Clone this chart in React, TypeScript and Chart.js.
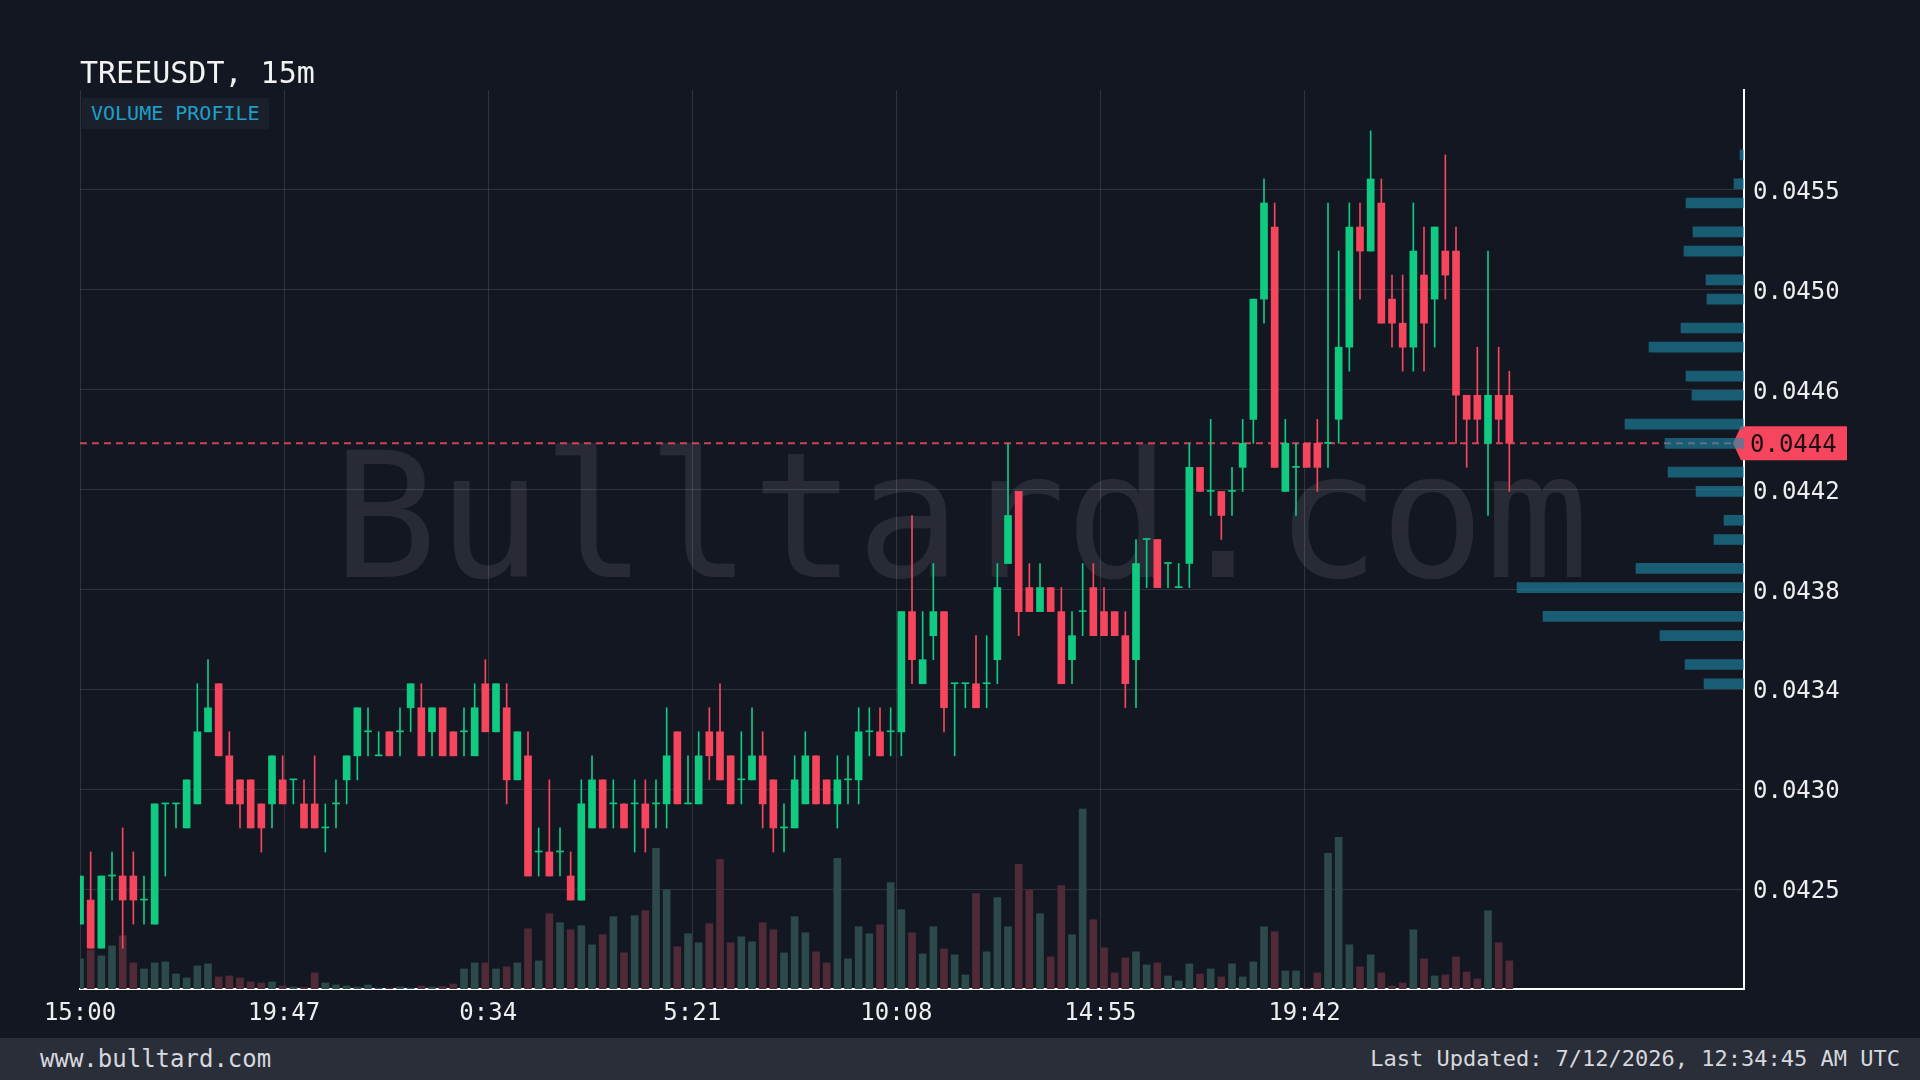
import React, { useEffect, useRef } from 'react';
import { Chart, registerables } from 'chart.js';

Chart.register(...registerables);

const TITLE = 'TREEUSDT, 15m';
const BADGE = 'VOLUME PROFILE';
const WATERMARK = 'Bulltard.com';
const FOOTER_LEFT = 'www.bulltard.com';
const FOOTER_RIGHT = 'Last Updated: 7/12/2026, 12:34:45 AM UTC';

const INTERVAL_MIN = 15;

const OPENS = [
  0.0424, 0.0425, 0.0423, 0.0426, 0.0426, 0.0426, 0.0425, 0.0424, 0.0429, 0.0429,
  0.0428, 0.0429, 0.0432, 0.0434, 0.0431, 0.0430, 0.0430, 0.0429, 0.0429, 0.0430,
  0.0430, 0.0429, 0.0429, 0.0428, 0.0429, 0.0430, 0.0431, 0.0432, 0.0431, 0.0432,
  0.0432, 0.0433, 0.0433, 0.0432, 0.0433, 0.0432, 0.0432, 0.0431, 0.0434, 0.0432,
  0.0433, 0.0430, 0.0431, 0.0427, 0.0427, 0.0427, 0.0426, 0.0425, 0.0428, 0.0430,
  0.0429, 0.0429, 0.0429, 0.0429, 0.0429, 0.0429, 0.0432, 0.0429, 0.0429, 0.0432,
  0.0432, 0.0431, 0.0430, 0.0430, 0.0431, 0.0430, 0.0428, 0.0428, 0.0429, 0.0431,
  0.0430, 0.0429, 0.0430, 0.0430, 0.0432, 0.0432, 0.0432, 0.0432, 0.0437, 0.0434,
  0.0436, 0.0437, 0.0434, 0.0434, 0.0434, 0.0434, 0.0435, 0.0439, 0.0442, 0.0438,
  0.0437, 0.0438, 0.0437, 0.0435, 0.0437, 0.0438, 0.0437, 0.0437, 0.0436, 0.0435,
  0.0440, 0.0440, 0.0439, 0.0438, 0.0439, 0.0443, 0.0442, 0.0442, 0.0442, 0.0443,
  0.0445, 0.0450, 0.0453, 0.0442, 0.0443, 0.0444, 0.0444, 0.0444, 0.0445, 0.0448,
  0.0453, 0.0452, 0.0454, 0.0450, 0.0449, 0.0448, 0.0451, 0.0450, 0.0452, 0.0452,
  0.0446, 0.0446, 0.0444, 0.0446, 0.0446,
];
const HIGHS = [
  0.0426, 0.0427, 0.0426, 0.0427, 0.0428, 0.0427, 0.0426, 0.0429, 0.0429, 0.0429,
  0.0430, 0.0434, 0.0435, 0.0434, 0.0432, 0.0430, 0.0430, 0.0429, 0.0431, 0.0431,
  0.0430, 0.0430, 0.0431, 0.0429, 0.0430, 0.0431, 0.0433, 0.0433, 0.0432, 0.0432,
  0.0433, 0.0434, 0.0434, 0.0433, 0.0433, 0.0432, 0.0433, 0.0434, 0.0435, 0.0434,
  0.0434, 0.0432, 0.0432, 0.0428, 0.0430, 0.0428, 0.0427, 0.0430, 0.0431, 0.0430,
  0.0430, 0.0429, 0.0430, 0.0430, 0.0430, 0.0433, 0.0432, 0.0431, 0.0432, 0.0433,
  0.0434, 0.0431, 0.0432, 0.0433, 0.0432, 0.0430, 0.0429, 0.0431, 0.0432, 0.0431,
  0.0430, 0.0431, 0.0431, 0.0433, 0.0433, 0.0433, 0.0433, 0.0437, 0.0441, 0.0437,
  0.0439, 0.0437, 0.0434, 0.0434, 0.0436, 0.0436, 0.0439, 0.0444, 0.0442, 0.0439,
  0.0439, 0.0438, 0.0438, 0.0437, 0.0439, 0.0439, 0.0438, 0.0437, 0.0437, 0.0440,
  0.0440, 0.0440, 0.0439, 0.0439, 0.0444, 0.0443, 0.0445, 0.0442, 0.0443, 0.0445,
  0.0450, 0.0455, 0.0454, 0.0445, 0.0444, 0.0444, 0.0445, 0.0454, 0.0452, 0.0454,
  0.0454, 0.0457, 0.0455, 0.0451, 0.0451, 0.0454, 0.0453, 0.0453, 0.0456, 0.0453,
  0.0446, 0.0448, 0.0452, 0.0448, 0.0447,
];
const LOWS = [
  0.0424, 0.0423, 0.0423, 0.0425, 0.0423, 0.0424, 0.0424, 0.0424, 0.0426, 0.0428,
  0.0428, 0.0429, 0.0432, 0.0431, 0.0429, 0.0428, 0.0428, 0.0427, 0.0428, 0.0429,
  0.0429, 0.0428, 0.0428, 0.0427, 0.0428, 0.0429, 0.0430, 0.0431, 0.0431, 0.0431,
  0.0431, 0.0432, 0.0431, 0.0431, 0.0431, 0.0431, 0.0431, 0.0431, 0.0432, 0.0432,
  0.0429, 0.0430, 0.0426, 0.0426, 0.0426, 0.0426, 0.0425, 0.0425, 0.0428, 0.0428,
  0.0428, 0.0428, 0.0427, 0.0427, 0.0428, 0.0428, 0.0429, 0.0429, 0.0429, 0.0430,
  0.0430, 0.0429, 0.0429, 0.0430, 0.0428, 0.0427, 0.0427, 0.0428, 0.0429, 0.0429,
  0.0429, 0.0428, 0.0429, 0.0429, 0.0431, 0.0431, 0.0431, 0.0431, 0.0434, 0.0434,
  0.0435, 0.0432, 0.0431, 0.0433, 0.0433, 0.0433, 0.0434, 0.0439, 0.0436, 0.0437,
  0.0437, 0.0437, 0.0434, 0.0434, 0.0436, 0.0436, 0.0436, 0.0436, 0.0433, 0.0433,
  0.0438, 0.0438, 0.0438, 0.0438, 0.0438, 0.0442, 0.0441, 0.0440, 0.0441, 0.0442,
  0.0444, 0.0449, 0.0443, 0.0442, 0.0441, 0.0443, 0.0442, 0.0443, 0.0444, 0.0447,
  0.0450, 0.0452, 0.0449, 0.0448, 0.0447, 0.0447, 0.0447, 0.0448, 0.0450, 0.0444,
  0.0443, 0.0444, 0.0441, 0.0444, 0.0442,
];
const CLOSES = [
  0.0426, 0.0423, 0.0426, 0.0426, 0.0425, 0.0425, 0.0425, 0.0429, 0.0429, 0.0429,
  0.0430, 0.0432, 0.0433, 0.0431, 0.0429, 0.0429, 0.0428, 0.0428, 0.0431, 0.0429,
  0.0430, 0.0428, 0.0428, 0.0428, 0.0429, 0.0431, 0.0433, 0.0432, 0.0431, 0.0431,
  0.0432, 0.0434, 0.0431, 0.0433, 0.0431, 0.0431, 0.0432, 0.0433, 0.0432, 0.0434,
  0.0430, 0.0432, 0.0426, 0.0427, 0.0426, 0.0427, 0.0425, 0.0429, 0.0430, 0.0428,
  0.0429, 0.0428, 0.0429, 0.0428, 0.0429, 0.0431, 0.0429, 0.0429, 0.0431, 0.0431,
  0.0430, 0.0429, 0.0430, 0.0431, 0.0429, 0.0428, 0.0428, 0.0430, 0.0431, 0.0429,
  0.0429, 0.0430, 0.0430, 0.0432, 0.0432, 0.0431, 0.0432, 0.0437, 0.0435, 0.0435,
  0.0437, 0.0433, 0.0434, 0.0434, 0.0433, 0.0434, 0.0438, 0.0441, 0.0437, 0.0437,
  0.0438, 0.0437, 0.0434, 0.0436, 0.0437, 0.0436, 0.0436, 0.0436, 0.0434, 0.0439,
  0.0440, 0.0438, 0.0439, 0.0438, 0.0443, 0.0442, 0.0442, 0.0441, 0.0442, 0.0444,
  0.0450, 0.0454, 0.0443, 0.0444, 0.0443, 0.0443, 0.0443, 0.0444, 0.0448, 0.0453,
  0.0452, 0.0455, 0.0449, 0.0449, 0.0448, 0.0452, 0.0449, 0.0453, 0.0451, 0.0446,
  0.0445, 0.0445, 0.0446, 0.0445, 0.0444,
];
// volume, thousands
const VOLUMES = [
  30, 39, 33, 43, 53, 26, 20, 26, 27, 15,
  11, 23, 25, 12, 13, 11, 7, 6, 7, 3,
  2, 1.5, 16, 6, 4, 3, 2, 4, 1, 1,
  2, 1, 3, 2, 2.5, 5, 20, 26, 26, 20,
  22, 26, 60, 28, 75, 66, 59, 63, 44, 54,
  72, 36, 73, 78, 140, 99, 42, 55, 46, 65,
  129, 46, 52, 47, 66, 59, 36, 72, 56, 37,
  26, 130, 30, 62, 55, 64, 106, 79, 56, 35,
  62, 40, 34, 14, 95, 37, 91, 62, 124, 99,
  75, 32, 103, 54, 179, 69, 41, 16, 31, 37,
  24, 26, 13, 8, 25, 15, 20, 12, 25, 12,
  27, 62, 57, 18, 18, 1, 16, 135, 151, 44,
  22, 34, 16, 3, 6, 59, 30, 13, 14, 32,
  17, 10, 78, 46, 28,
];

const X_TICK_LABELS = ['15:00', '19:47', '0:34', '5:21', '10:08', '14:55', '19:42'];
const X_TICK_STEP_MIN = 287;
const X_MAX_MIN = 2340;

const Y_MIN = 0.04213;
const Y_MAX = 0.04587;
const Y_TICKS = [0.042546, 0.042961, 0.043377, 0.043792, 0.044208, 0.044623, 0.045039, 0.045454];

const PROFILE_PRICES = [
  0.0434, 0.04348, 0.0436, 0.04368, 0.0438, 0.04388, 0.044, 0.04408, 0.0442, 0.04428,
  0.0444, 0.04448, 0.0446, 0.04468, 0.0448, 0.04488, 0.045, 0.04508, 0.0452, 0.04528,
  0.0454, 0.04548, 0.0456,
];
const PROFILE_VOLUMES = [
  40, 59, 84, 201, 227, 108, 30, 20, 48, 76,
  79, 119, 52, 58, 95, 63, 37, 38, 60, 51,
  58, 10, 4,
];

const CURRENT_PRICE = CLOSES[CLOSES.length - 1];

const BG = '#131722';
const UP = '#0ecb81';
const DOWN = '#f6465d';
const VOL_UP = '#2c4a49';
const VOL_DOWN = '#502a37';
const PROFILE_COLOR = 'rgba(30,140,172,0.6)';
const GRID = 'rgba(255,255,255,0.12)';
const FONT = '"DejaVu Sans Mono", monospace';

const watermarkPlugin = {
  id: 'watermark',
  beforeDraw(chart: any) {
    const ctx = chart.ctx;
    ctx.save();
    ctx.font = `174px ${FONT}`;
    ctx.fillStyle = 'rgba(255,255,255,0.09)';
    ctx.textAlign = 'center';
    ctx.textBaseline = 'alphabetic';
    ctx.fillText(WATERMARK, 961, 577);
    ctx.restore();
  },
};

const priceTagPlugin = {
  id: 'priceTag',
  beforeDatasetsDraw(chart: any) {
    const { ctx, chartArea } = chart;
    const y = chart.scales.y.getPixelForValue(CURRENT_PRICE);
    const x0 = chartArea.right;
    ctx.save();
    ctx.fillStyle = DOWN;
    ctx.beginPath();
    ctx.moveTo(x0 - 11, y);
    ctx.lineTo(x0 - 3, y - 17);
    ctx.lineTo(x0 + 103, y - 17);
    ctx.lineTo(x0 + 103, y + 17);
    ctx.lineTo(x0 - 3, y + 17);
    ctx.closePath();
    ctx.fill();
    ctx.fillStyle = '#1b0f14';
    ctx.font = `24px ${FONT}`;
    ctx.textAlign = 'left';
    ctx.textBaseline = 'middle';
    ctx.fillText(CURRENT_PRICE.toFixed(4), x0 + 6, y + 2);
    ctx.restore();
  },
};

export default function App() {
  const canvasRef = useRef<HTMLCanvasElement | null>(null);

  useEffect(() => {
    const canvas = canvasRef.current;
    if (!canvas) return;
    const xs = OPENS.map((_, i) => i * INTERVAL_MIN);
    const dirColor = (up: string, down: string) => OPENS.map((o, i) => (CLOSES[i] >= o ? up : down));
    const chart = new Chart(canvas, {
      type: 'bar',
      data: {
        datasets: [
          {
            type: 'bar',
            label: 'Volume Profile',
            indexAxis: 'y',
            order: 0,
            data: PROFILE_PRICES.map((p, i) => ({ x: PROFILE_VOLUMES[i], y: p })),
            xAxisID: 'xp',
            yAxisID: 'y',
            backgroundColor: PROFILE_COLOR,
            barThickness: 10,
            grouped: false,
            borderWidth: 0,
          } as any,
          {
            type: 'bar',
            label: 'Body',
            order: 1,
            data: xs.map((x, i) => ({ x, y: [OPENS[i], CLOSES[i]] })),
            xAxisID: 'x',
            yAxisID: 'y',
            backgroundColor: dirColor(UP, DOWN),
            barThickness: 7,
            minBarLength: 1,
            grouped: false,
            borderWidth: 0,
          } as any,
          {
            type: 'bar',
            label: 'Wick',
            order: 2,
            data: xs.map((x, i) => ({ x, y: [LOWS[i], HIGHS[i]] })),
            xAxisID: 'x',
            yAxisID: 'y',
            backgroundColor: dirColor(UP, DOWN),
            barThickness: 1,
            grouped: false,
            borderWidth: 0,
          } as any,
          {
            type: 'line',
            label: 'Last',
            order: 3,
            data: [
              { x: 0, y: CURRENT_PRICE },
              { x: X_MAX_MIN, y: CURRENT_PRICE },
            ],
            xAxisID: 'x',
            yAxisID: 'y',
            borderColor: 'rgba(246,70,93,0.85)',
            borderWidth: 2,
            borderDash: [7, 5],
            pointRadius: 0,
            fill: false,
          } as any,
          {
            type: 'bar',
            label: 'Volume',
            order: 5,
            data: xs.map((x, i) => ({ x, y: VOLUMES[i] })),
            xAxisID: 'x',
            yAxisID: 'yv',
            backgroundColor: dirColor(VOL_UP, VOL_DOWN),
            barThickness: 7,
            grouped: false,
            borderWidth: 0,
          } as any,
        ],
      },
      options: {
        animation: false,
        responsive: false,
        maintainAspectRatio: false,
        events: [],
        layout: { padding: { left: 80, top: 90, right: 0, bottom: 0 } },
        plugins: { legend: { display: false }, tooltip: { enabled: false } },
        scales: {
          x: {
            type: 'linear',
            position: 'bottom',
            min: 0,
            max: X_MAX_MIN,
            offset: false,
            grid: { color: GRID, drawTicks: false, offset: false },
            border: { display: true, color: '#ffffff', width: 2 },
            ticks: {
              autoSkip: false,
              maxRotation: 0,
              minRotation: 0,
              padding: 10,
              color: '#eeeeee',
              font: { family: FONT, size: 24 },
              callback: (_v: any, i: number) => X_TICK_LABELS[i],
            },
            afterBuildTicks: (scale: any) => {
              scale.ticks = X_TICK_LABELS.map((_, k) => ({ value: k * X_TICK_STEP_MIN }));
            },
            afterFit: (scale: any) => {
              scale.height = 49;
            },
          },
          y: {
            type: 'linear',
            position: 'right',
            min: Y_MIN,
            max: Y_MAX,
            offset: false,
            grid: { color: GRID, drawTicks: false, offset: false },
            border: { display: true, color: '#ffffff', width: 2 },
            ticks: {
              padding: 9,
              labelOffset: 3,
              color: '#eeeeee',
              font: { family: FONT, size: 24 },
              callback: (v: any) => Number(v).toFixed(4),
            },
            afterBuildTicks: (scale: any) => {
              scale.ticks = Y_TICKS.map((v) => ({ value: v }));
            },
            afterFit: (scale: any) => {
              scale.width = 176;
            },
          },
          yv: {
            type: 'linear',
            axis: 'y',
            display: false,
            offset: false,
            grid: { offset: false },
            min: 0,
            max: Math.max(...VOLUMES) * 5,
          },
          xp: {
            type: 'linear',
            axis: 'x',
            display: false,
            reverse: true,
            offset: false,
            grid: { offset: false },
            min: 0,
            max: Math.max(...PROFILE_VOLUMES) / 0.1364,
          },
        } as any,
      },
      plugins: [watermarkPlugin, priceTagPlugin],
    } as any);
    return () => chart.destroy();
  }, []);

  return (
    <div
      style={{
        position: 'fixed',
        left: 0,
        top: 0,
        width: 1920,
        height: 1080,
        background: BG,
        overflow: 'hidden',
        fontFamily: FONT,
      }}
    >
      <canvas
        ref={canvasRef}
        width={1920}
        height={1038}
        style={{ position: 'absolute', left: 0, top: 0, width: 1920, height: 1038 }}
      />
      <div
        style={{
          position: 'absolute',
          left: 80,
          top: 57.6,
          fontSize: 30,
          lineHeight: '30px',
          color: '#f2f2f2',
          whiteSpace: 'nowrap',
        }}
      >
        {TITLE}
      </div>
      <div
        style={{
          position: 'absolute',
          left: 82,
          top: 98,
          height: 31,
          lineHeight: '31px',
          padding: '0 9px',
          background: '#1a212d',
          color: '#1f9fc6',
          fontSize: 20,
          whiteSpace: 'nowrap',
        }}
      >
        {BADGE}
      </div>
      <div
        style={{
          position: 'absolute',
          left: 0,
          top: 1038,
          width: 1920,
          height: 42,
          background: '#2a2e39',
          color: '#d6d8de',
          lineHeight: '42px',
        }}
      >
        <span style={{ position: 'absolute', left: 40, top: 0, fontSize: 24 }}>{FOOTER_LEFT}</span>
        <span style={{ position: 'absolute', right: 20, top: 0, fontSize: 22 }}>{FOOTER_RIGHT}</span>
      </div>
    </div>
  );
}
